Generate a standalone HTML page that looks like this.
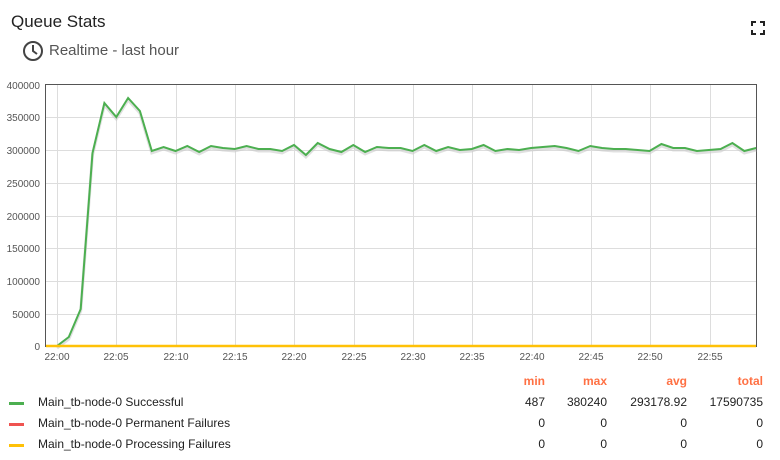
<!DOCTYPE html>
<html><head><meta charset="utf-8"><style>
body{margin:0;width:780px;height:460px;background:#fff;font-family:"Liberation Sans",sans-serif;overflow:hidden;position:relative}
.t{position:absolute;white-space:nowrap}
</style></head><body>
<div class="t" style="left:11px;top:12px;font-size:17px;color:#222">Queue Stats</div>
<svg class="t" style="left:22px;top:40px" width="22" height="22" viewBox="0 0 22 22"><circle cx="11" cy="11" r="9" fill="none" stroke="#444" stroke-width="2"/><path d="M11 5v6l4 3" fill="none" stroke="#444" stroke-width="2"/></svg>
<div class="t" style="left:49px;top:42px;font-size:15px;color:#555">Realtime - last hour</div>
<svg class="t" style="left:751px;top:21px" width="14" height="14"><path d="M1 5V1h4M9 1h4v4M13 9v4H9M5 13H1V9" fill="none" stroke="#222" stroke-width="2"/></svg>
<svg class="t" style="left:0;top:0" width="780" height="370" font-family="Liberation Sans,sans-serif" font-size="10" fill="#555">
<g stroke="#ddd" stroke-width="1">
<line x1="45" x2="756" y1="117.5" y2="117.5"/><line x1="45" x2="756" y1="150.5" y2="150.5"/><line x1="45" x2="756" y1="183.5" y2="183.5"/><line x1="45" x2="756" y1="216.5" y2="216.5"/><line x1="45" x2="756" y1="248.5" y2="248.5"/><line x1="45" x2="756" y1="281.5" y2="281.5"/><line x1="45" x2="756" y1="314.5" y2="314.5"/>
<line x1="116.5" x2="116.5" y1="84" y2="347"/><line x1="176.5" x2="176.5" y1="84" y2="347"/><line x1="235.5" x2="235.5" y1="84" y2="347"/><line x1="294.5" x2="294.5" y1="84" y2="347"/><line x1="354.5" x2="354.5" y1="84" y2="347"/><line x1="413.5" x2="413.5" y1="84" y2="347"/><line x1="472.5" x2="472.5" y1="84" y2="347"/><line x1="532.5" x2="532.5" y1="84" y2="347"/><line x1="591.5" x2="591.5" y1="84" y2="347"/><line x1="650.5" x2="650.5" y1="84" y2="347"/><line x1="710.5" x2="710.5" y1="84" y2="347"/><line x1="57.5" x2="57.5" y1="84" y2="347"/>
</g>
<rect x="45.5" y="84.5" width="711" height="262" fill="none" stroke="#555"/>
<g text-anchor="end"><text x="40" y="89">400000</text><text x="40" y="121">350000</text><text x="40" y="154">300000</text><text x="40" y="187">250000</text><text x="40" y="220">200000</text><text x="40" y="252">150000</text><text x="40" y="285">100000</text><text x="40" y="318">50000</text><text x="40" y="350">0</text></g>
<g text-anchor="middle"><text x="57" y="360">22:00</text><text x="116" y="360">22:05</text><text x="176" y="360">22:10</text><text x="235" y="360">22:15</text><text x="294" y="360">22:20</text><text x="354" y="360">22:25</text><text x="413" y="360">22:30</text><text x="472" y="360">22:35</text><text x="532" y="360">22:40</text><text x="591" y="360">22:45</text><text x="650" y="360">22:50</text><text x="710" y="360">22:55</text></g>
<polyline id="p" fill="none" stroke="#ccc" stroke-width="3" opacity="0.6" transform="translate(0,2)" points=""/>
<polyline id="q" fill="none" stroke="#4caf50" stroke-width="2" points=""/>
<line x1="46" x2="756" y1="346" y2="346" stroke="#ffc107" stroke-width="2.5"/>
</svg>
<script>
var ys=[346,337,309,153,103,117,98,111,151,147,151,146,152,146,148,149,146,149,149,151,145,155,143,149,152,145,152,147,148,148,151,145,151,147,150,149,145,151,149,150,148,147,146,148,151,146,148,149,149,150,151,144,148,148,151,150,149,143,151,148];
var pts=ys.map(function(y,i){return (57+i*11.85).toFixed(1)+","+y}).join(" ");
document.getElementById("p").setAttribute("points",pts);document.getElementById("q").setAttribute("points",pts);
</script>
<div style="position:absolute;left:0;top:374px;width:780px;font-size:12px;color:#222">
<div class="t" style="top:0;right:235px;color:#ff7043;font-weight:bold">min</div>
<div class="t" style="top:0;right:173px;color:#ff7043;font-weight:bold">max</div>
<div class="t" style="top:0;right:93px;color:#ff7043;font-weight:bold">avg</div>
<div class="t" style="top:0;right:17px;color:#ff7043;font-weight:bold">total</div>
<div class="t" style="left:9px;top:28px;width:15px;height:3px;background:#4caf50"></div>
<div class="t" style="left:38px;top:21px">Main_tb-node-0 Successful</div>
<div class="t" style="top:21px;right:235px">487</div><div class="t" style="top:21px;right:173px">380240</div><div class="t" style="top:21px;right:93px">293178.92</div><div class="t" style="top:21px;right:17px">17590735</div>
<div class="t" style="left:9px;top:49px;width:15px;height:3px;background:#ef5350"></div>
<div class="t" style="left:38px;top:42px">Main_tb-node-0 Permanent Failures</div>
<div class="t" style="top:42px;right:235px">0</div><div class="t" style="top:42px;right:173px">0</div><div class="t" style="top:42px;right:93px">0</div><div class="t" style="top:42px;right:17px">0</div>
<div class="t" style="left:9px;top:70px;width:15px;height:3px;background:#ffc107"></div>
<div class="t" style="left:38px;top:63px">Main_tb-node-0 Processing Failures</div>
<div class="t" style="top:63px;right:235px">0</div><div class="t" style="top:63px;right:173px">0</div><div class="t" style="top:63px;right:93px">0</div><div class="t" style="top:63px;right:17px">0</div>
</div>
</body></html>
